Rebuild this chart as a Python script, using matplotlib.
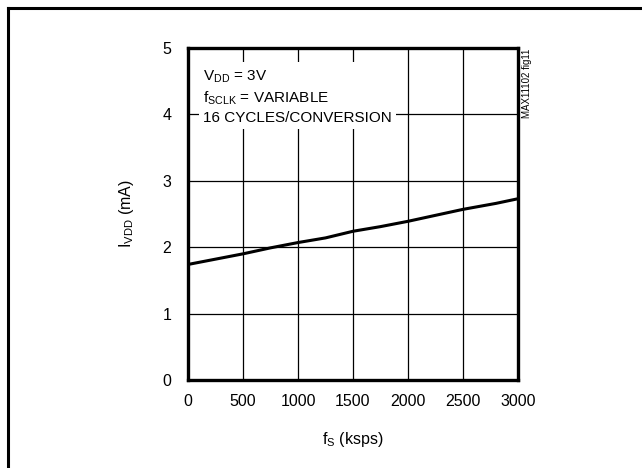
import matplotlib
matplotlib.use("Agg")
import matplotlib.pyplot as plt
from matplotlib.lines import Line2D

plt.rcParams['font.family'] = ['Liberation Sans', 'DejaVu Sans']

# sampling rate (ksps) and supply current (mA)
fs_ksps = [0, 250, 500, 750, 1000, 1250, 1500, 1750, 2000, 2250, 2500, 2800, 3000]
ivdd_ma = [1.74, 1.82, 1.90, 1.99, 2.07, 2.14, 2.24, 2.31, 2.39, 2.48, 2.57, 2.66, 2.73]

x_ticks = [0, 500, 1000, 1500, 2000, 2500, 3000]
y_ticks = [0, 1, 2, 3, 4, 5]

fig = plt.figure(figsize=(6.42, 4.68), dpi=100)

# outer frame (only left and top edges show)
fig.add_artist(Line2D([7.5 / 642, 7.5 / 642], [0, 1 - 7.5 / 468],
                      color='black', lw=2.2, transform=fig.transFigure))
fig.add_artist(Line2D([7.5 / 642, 1], [1 - 7.5 / 468, 1 - 7.5 / 468],
                      color='black', lw=2.2, transform=fig.transFigure))

ax = fig.add_axes([188 / 642, 1 - 380 / 468, 330 / 642, 332 / 468])
ax.plot(fs_ksps, ivdd_ma, color='black', lw=2.2, zorder=3)

ax.set_xlim(0, 3000)
ax.set_ylim(0, 5)
ax.set_xticks(x_ticks)
ax.set_yticks(y_ticks)
ax.tick_params(axis='x', length=0, labelsize=11.5, pad=10)
ax.tick_params(axis='y', length=0, labelsize=11.5, pad=12)
ax.grid(True, color='black', lw=0.9)
for s in ax.spines.values():
    s.set_linewidth(2.4)

ax.set_xlabel('f$_\\mathregular{S}$ (ksps)', fontsize=11.5, labelpad=15)
ax.set_ylabel('I$_\\mathregular{VDD}$ (mA)', fontsize=11.5, labelpad=19)

# white box masking the grid behind the conditions text
ax.text(0.045, 0.94,
        'V$_\\mathregular{DD}$ = 3V\n'
        'f$_\\mathregular{SCLK}$ = VARIABLE\n'
        '16 CYCLES/CONVERSION',
        transform=ax.transAxes, ha='left', va='top', fontsize=11,
        linespacing=1.35, zorder=4,
        bbox=dict(facecolor='white', edgecolor='none', pad=3))

fig.text(527 / 642, 1 - 49 / 468, 'MAX11102 fig11', rotation=90,
         ha='center', va='top', fontsize=7)

fig.savefig('out.png', dpi=100)
